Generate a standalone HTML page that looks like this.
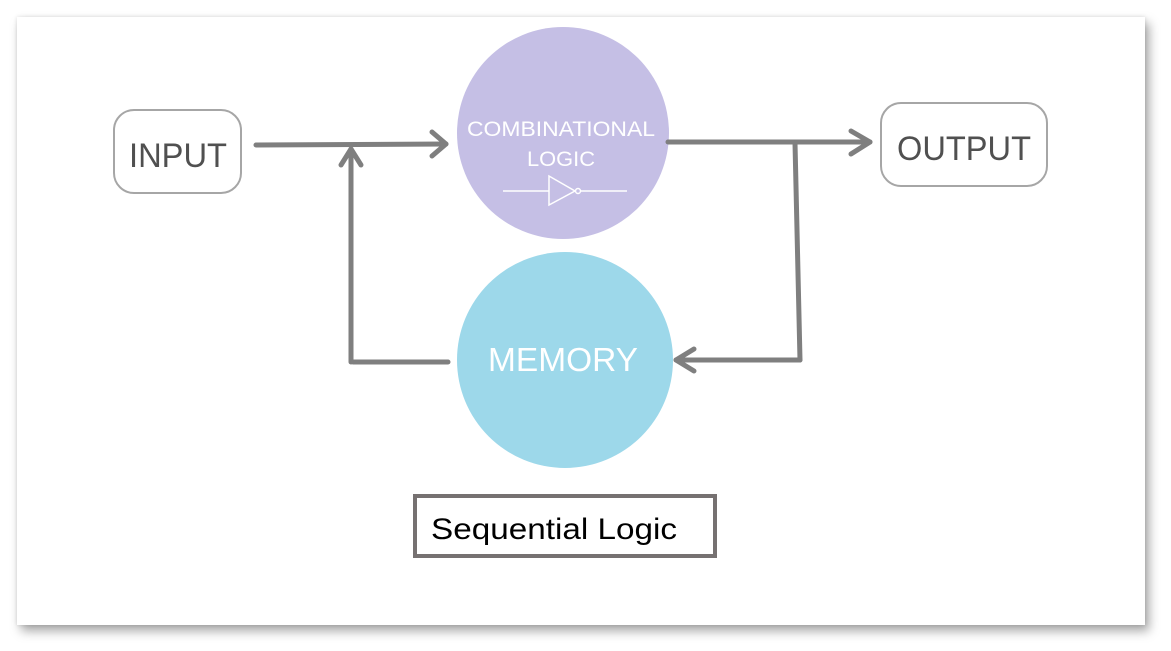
<!DOCTYPE html>
<html><head><meta charset="utf-8"><style>
html,body{margin:0;padding:0;background:#fff;width:1171px;height:651px;overflow:hidden}
.slide{position:absolute;left:17px;top:17px;width:1128px;height:608px;background:#fff;box-shadow:4px 6px 10px rgba(0,0,0,0.35),0 0 4px rgba(0,0,0,0.12)}
svg{position:absolute;left:0;top:0}
</style></head><body>
<div class="slide"></div>
<svg width="1171" height="651" viewBox="0 0 1171 651" font-family="Liberation Sans, sans-serif">
<circle cx="563" cy="133" r="106" fill="#c5bfe5"/>
<circle cx="565" cy="360" r="108" fill="#9dd8ea"/>
<rect x="114" y="110" width="127" height="83" rx="20" fill="#fff" stroke="#a6a6a6" stroke-width="2"/>
<rect x="881" y="103" width="166" height="83" rx="20" fill="#fff" stroke="#a6a6a6" stroke-width="2"/>
<text x="178" y="167" font-size="34" fill="#505050" text-anchor="middle" textLength="98" lengthAdjust="spacingAndGlyphs">INPUT</text>
<text x="964" y="160" font-size="34" fill="#505050" text-anchor="middle" textLength="134" lengthAdjust="spacingAndGlyphs">OUTPUT</text>
<text x="561" y="136" font-size="21" fill="#fff" text-anchor="middle" textLength="188" lengthAdjust="spacingAndGlyphs">COMBINATIONAL</text>
<text x="561" y="166" font-size="21" fill="#fff" text-anchor="middle" textLength="68" lengthAdjust="spacingAndGlyphs">LOGIC</text>
<g stroke="#fff" stroke-width="1.5" fill="none">
<line x1="503" y1="191" x2="549" y2="191"/>
<polygon points="549,176 549,205 575,191"/>
<circle cx="578" cy="191" r="2.5"/>
<line x1="581" y1="191" x2="627" y2="191"/>
</g>
<text x="563" y="371" font-size="33" fill="#fff" text-anchor="middle" textLength="150" lengthAdjust="spacingAndGlyphs">MEMORY</text>
<g stroke="#7f7f7f" stroke-width="5" fill="none" stroke-linecap="round" stroke-linejoin="round">
<line x1="256" y1="145" x2="446" y2="144"/>
<polyline points="432,132 446,144 432,156"/>
<line x1="351" y1="362" x2="351" y2="149"/>
<polyline points="341,165 351,149 361,165"/>
<line x1="353" y1="362" x2="448" y2="362"/>
<line x1="668" y1="142" x2="870" y2="142"/>
<polyline points="851,131 870,142 851,154"/>
<line x1="795" y1="143" x2="800" y2="360"/>
<line x1="800" y1="360" x2="676" y2="360"/>
<polyline points="694,349 676,360 694,371"/>
</g>
<rect x="415" y="496" width="300" height="60" fill="#fff" stroke="#767171" stroke-width="4"/>
<text x="431" y="539" font-size="30" fill="#000" textLength="246" lengthAdjust="spacingAndGlyphs">Sequential Logic</text>
</svg>
</body></html>
